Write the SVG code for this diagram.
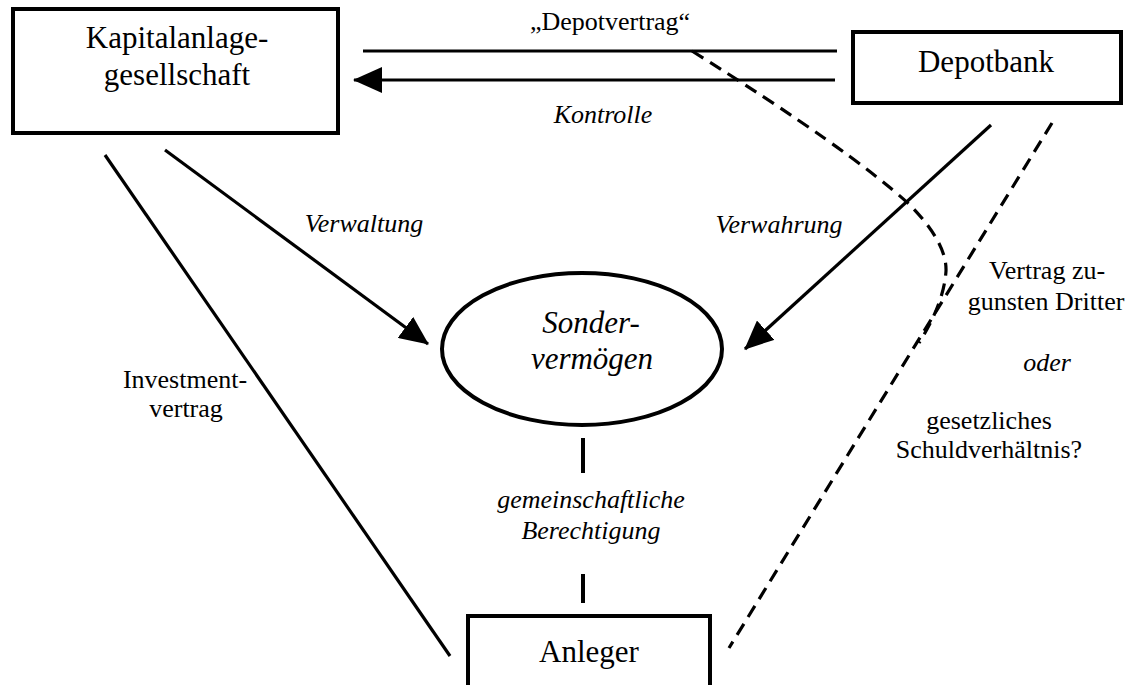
<svg xmlns="http://www.w3.org/2000/svg" width="1131" height="685" viewBox="0 0 1131 685">
<style>
text{font-family:"Liberation Serif","Times New Roman",serif;fill:#000;text-anchor:middle}
.big{font-size:31px}
.lab{font-size:26px}
.it{font-style:italic}
.box{fill:#fff;stroke:#000;stroke-width:4}
.ln{fill:none;stroke:#000;stroke-width:3.2}
.dash{fill:none;stroke:#000;stroke-width:3.2;stroke-dasharray:13 8}
</style>
<defs>
<marker id="ah" markerWidth="29" markerHeight="26" refX="28" refY="13" orient="auto" markerUnits="userSpaceOnUse">
<path d="M0,0 L29,13 L0,26 z" fill="#000"/>
</marker>
</defs>
<rect width="1131" height="685" fill="#fff"/>
<g id="connectors">
<line class="ln" x1="363" y1="51" x2="837" y2="51"/>
<line class="ln" x1="835" y1="80" x2="354" y2="80" marker-end="url(#ah)"/>
<line class="ln" x1="165" y1="150" x2="428" y2="344" marker-end="url(#ah)"/>
<line class="ln" x1="991" y1="125" x2="745" y2="349" marker-end="url(#ah)"/>
<line class="ln" x1="105" y1="155" x2="450" y2="656"/>
<line class="ln" x1="583" y1="438" x2="583" y2="473" style="stroke-width:4"/>
<line class="ln" x1="583" y1="574" x2="583" y2="603" style="stroke-width:4"/>
<line class="dash" x1="1052" y1="123" x2="729" y2="648"/>
<path class="dash" d="M692,51 Q850,150 910,205 Q947,243 946,271 Q944,303 919,343"/>
<text class="lab" x="610" y="30">„Depotvertrag“</text>
<text class="lab it" x="603" y="123">Kontrolle</text>
<text class="lab it" x="364" y="232">Verwaltung</text>
<text class="lab it" x="779" y="233">Verwahrung</text>
<text class="lab" x="185" y="388">Investment-</text>
<text class="lab" x="186" y="417">vertrag</text>
<text class="lab it" x="591" y="508">gemeinschaftliche</text>
<text class="lab it" x="591" y="539">Berechtigung</text>
<text class="lab" x="1047" y="279">Vertrag zu-</text>
<text class="lab" x="1046" y="310">gunsten Dritter</text>
<text class="lab it" x="1047" y="371">oder</text>
<text class="lab" x="989" y="429">gesetzliches</text>
<text class="lab" x="989" y="458">Schuldverhältnis?</text>
</g>
<g id="kag">
<rect class="box" x="13" y="9" width="325" height="124"/>
<text class="big" x="177" y="48">Kapitalanlage-</text>
<text class="big" x="177" y="85">gesellschaft</text>
</g>
<g id="depotbank">
<rect class="box" x="853" y="32" width="268" height="71"/>
<text class="big" x="986" y="72">Depotbank</text>
</g>
<g id="sondervermoegen">
<ellipse cx="582" cy="349" rx="140" ry="76" fill="none" stroke="#000" stroke-width="4"/>
<text class="big it" x="591" y="333">Sonder-</text>
<text class="big it" x="592" y="369">vermögen</text>
</g>
<g id="anleger">
<rect class="box" x="468" y="616" width="242" height="90"/>
<text class="big" x="589" y="662">Anleger</text>
</g>
</svg>
